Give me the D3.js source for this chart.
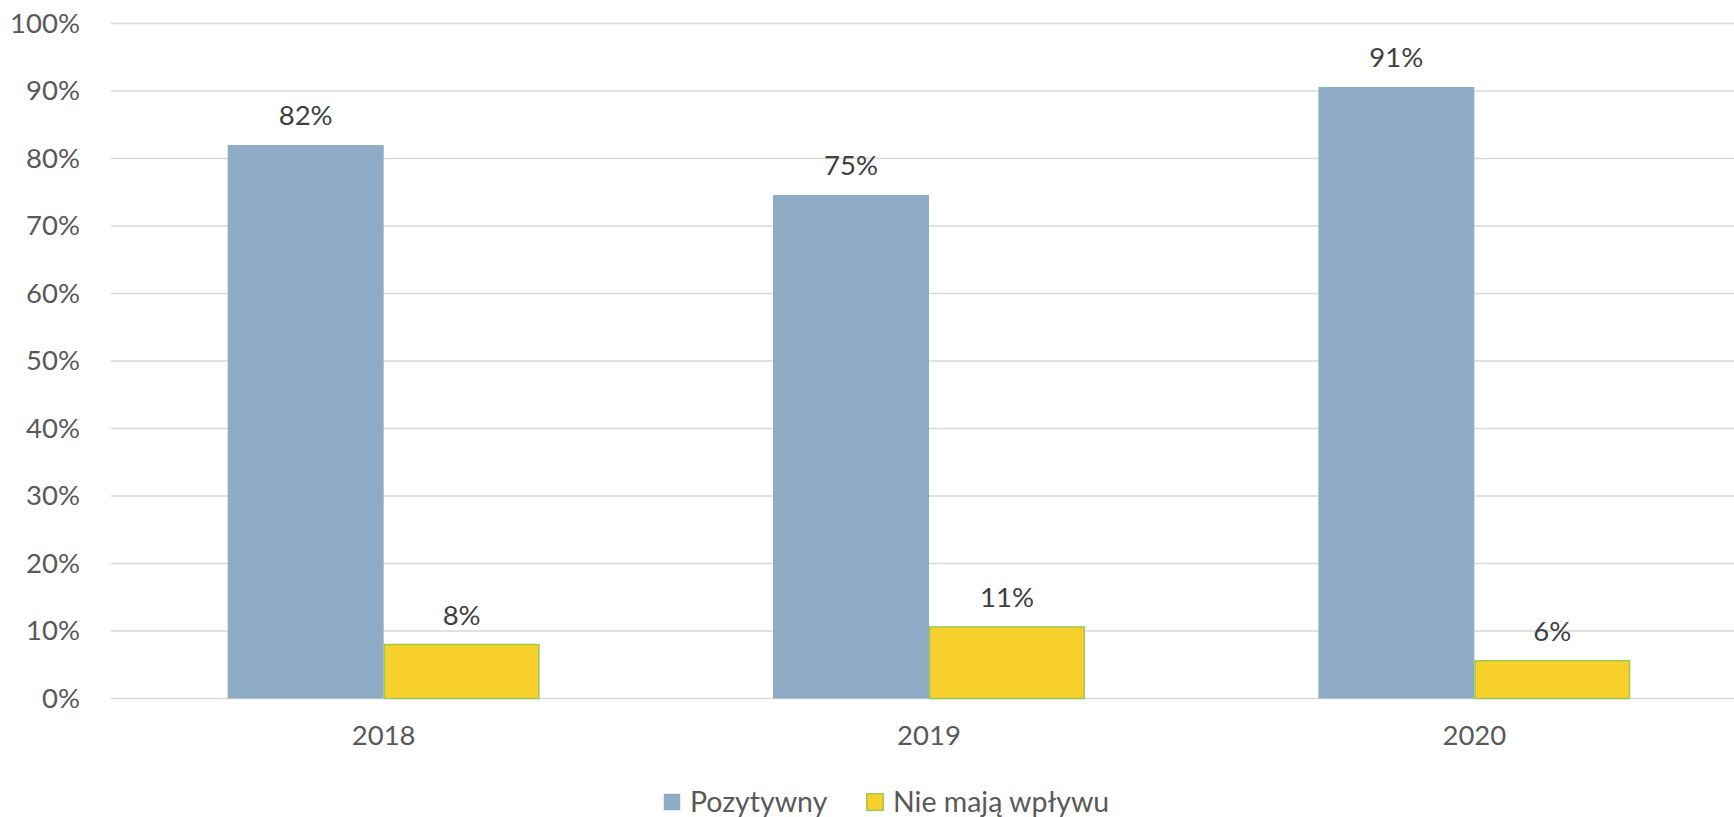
<!DOCTYPE html>
<html>
<head>
<meta charset="utf-8">
<script src="https://cdn.jsdelivr.net/npm/d3@7"></script>
<style>
  html, body { margin: 0; padding: 0; background: #ffffff; }
  svg { display: block; }
  text { font-family: Lato, "Open Sans", sans-serif; }
</style>
</head>
<body>
<svg id="chart" width="1734" height="817"></svg>
<script>
// ---- data ----
const categories = ["2018", "2019", "2020"];
const seriesNames = ["Pozytywny", "Nie mają wpływu"];
const pozytywny = [82.0, 74.6, 90.6];
const nieMajaWplywu = [8.0, 10.6, 5.6];
const yTicks = [0, 10, 20, 30, 40, 50, 60, 70, 80, 90, 100];
const seriesColors = ["#8FACC6", "#F8D02B"];
const seriesStrokes = ["none", "#9BCB4F"];

// ---- layout ----
const W = 1734, H = 817;
const plotLeft = 111, plotRight = 1747, plotTop = 23.5, plotBottom = 698.5;
const fs = 27.5;

const svg = d3.select("#chart");

const y = d3.scaleLinear().domain([0, 100]).range([plotBottom, plotTop]);
const x0 = d3.scaleBand().domain(categories).range([plotLeft, plotRight])
  .paddingInner(0.428).paddingOuter(0.214);
const x1 = d3.scaleBand().domain(seriesNames).range([0, x0.bandwidth()]);

// gridlines
svg.append("g")
  .selectAll("line").data(yTicks).join("line")
  .attr("x1", plotLeft).attr("x2", W)
  .attr("y1", d => y(d)).attr("y2", d => y(d))
  .attr("stroke", "#D9D9D9").attr("stroke-width", 1.5);

// y axis labels
const yAxis = d3.axisLeft(y).tickValues(yTicks).tickFormat(d => d + "%").tickSize(0).tickPadding(0);
const gy = svg.append("g").attr("transform", `translate(80,0)`).call(yAxis);
gy.select(".domain").remove();
gy.selectAll("text").attr("fill", "#595959").attr("font-size", fs)
  .style("font-family", "Lato, 'Open Sans', sans-serif");

// x axis labels
const xAxis = d3.axisBottom(x0).tickSize(0).tickPadding(0);
const gx = svg.append("g").attr("transform", `translate(0,${plotBottom + 27})`).call(xAxis);
gx.select(".domain").remove();
gx.selectAll("text").attr("fill", "#595959").attr("font-size", fs)
  .style("font-family", "Lato, 'Open Sans', sans-serif");

// bars
const rows = categories.map((c, i) => ({ cat: c, vals: [pozytywny[i], nieMajaWplywu[i]] }));
const groups = svg.append("g").selectAll("g").data(rows).join("g")
  .attr("transform", d => `translate(${x0(d.cat)},0)`);

groups.selectAll("rect").data(d => d.vals.map((v, j) => ({ name: seriesNames[j], v, j })))
  .join("rect")
  .attr("x", d => x1(d.name) + (d.j === 1 ? 0.75 : 0))
  .attr("width", d => x1.bandwidth() - (d.j === 1 ? 1.5 : 0))
  .attr("y", d => y(d.v))
  .attr("height", d => plotBottom - y(d.v))
  .attr("fill", d => seriesColors[d.j])
  .attr("stroke", d => seriesStrokes[d.j])
  .attr("stroke-width", 1.5);

groups.selectAll("text.lbl").data(d => d.vals.map((v, j) => ({ name: seriesNames[j], v, j })))
  .join("text").attr("class", "lbl")
  .attr("x", d => x1(d.name) + x1.bandwidth() / 2)
  .attr("y", d => y(d.v) - 20)
  .attr("text-anchor", "middle")
  .attr("fill", "#404040").attr("font-size", fs)
  .text(d => Math.round(d.v) + "%");

// legend
const legend = svg.append("g").attr("transform", `translate(663,802)`);
const legendX = [0, 203];
seriesNames.forEach((n, j) => {
  const g = legend.append("g").attr("transform", `translate(${legendX[j]},0)`);
  g.append("rect").attr("x", 0.75).attr("y", -8.25).attr("width", 16.5).attr("height", 16.5)
    .attr("fill", seriesColors[j]).attr("stroke", seriesStrokes[j]).attr("stroke-width", 1.5);
  g.append("text").attr("x", 27).attr("y", 0).attr("dy", "0.35em")
    .attr("fill", "#595959").attr("font-size", 28.5).text(n);
});
</script>
</body>
</html>
